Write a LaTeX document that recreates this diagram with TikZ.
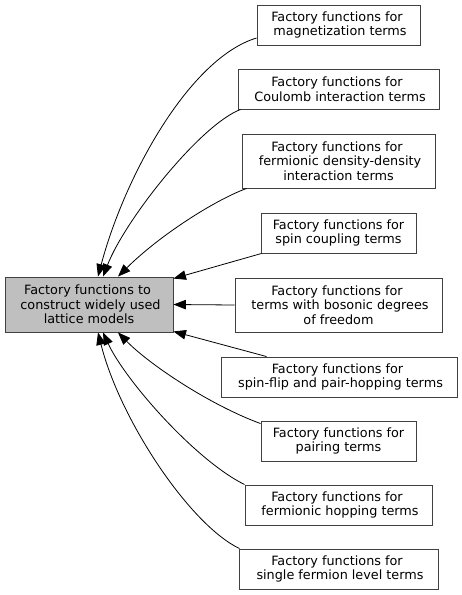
\documentclass[tikz,border=0pt]{standalone}
\usepackage{fontspec}
\setmainfont{DejaVu Sans}
\usetikzlibrary{arrows.meta,calc}
\newcommand{\gsp}{\hspace*{3pt}}
\begin{document}
\begin{tikzpicture}[x=1pt,y=-1pt,
  box/.style={draw=black!75, line width=0.9pt, fill=white, align=center, inner sep=0pt,
    font=\fontsize{12.8}{14.5}\selectfont},
  mainbox/.style={box, fill=gray!50},
  edge/.style={draw=black, line width=0.8pt, -{Triangle[length=12.5pt,width=9.5pt]}}]
\useasboundingbox (0,0) rectangle (461,595);

\node[mainbox, minimum width=168pt, minimum height=55pt] (main) at (89,304.5)
  {Factory functions to\gsp\\\gsp construct widely used\\lattice models};

\node[box, minimum width=163pt, minimum height=40pt] (mag) at (338.5,25)
  {Factory functions for\gsp\\\gsp magnetization terms};
\node[box, minimum width=201pt, minimum height=40pt] (coul) at (338.5,89)
  {Factory functions for\gsp\\\gsp Coulomb interaction terms};
\node[box, minimum width=193pt, minimum height=54pt] (dens) at (338.5,161)
  {Factory functions for\gsp\\\gsp fermionic density-density\\interaction terms};
\node[box, minimum width=155pt, minimum height=40pt] (spin) at (338.5,233)
  {Factory functions for\\spin coupling terms};
\node[box, minimum width=207pt, minimum height=54pt] (bos) at (338.5,305)
  {Factory functions for\gsp\\\gsp terms with bosonic degrees\\of freedom};
\node[box, minimum width=236pt, minimum height=40pt] (flip) at (339,377)
  {Factory functions for\gsp\\\gsp spin-flip and pair-hopping terms};
\node[box, minimum width=155pt, minimum height=40pt] (pair) at (338.5,441)
  {Factory functions for\\pairing terms};
\node[box, minimum width=187pt, minimum height=40pt] (hop) at (338.5,505)
  {Factory functions for\gsp\\\gsp fermionic hopping terms};
\node[box, minimum width=199pt, minimum height=40pt] (single) at (338.5,569)
  {Factory functions for\gsp\\\gsp single fermion level terms};

% edges
\draw[edge] ([yshift=-13pt]mag.west) .. controls (190,58) and (125,175) .. ([xshift=9pt]main.north);
\draw[edge] ([xshift=3pt]coul.south west) .. controls (200,125) and (125,220) .. ([xshift=14pt]main.north);
\draw[edge] ([xshift=5pt]dens.south west) .. controls (215,200) and (160,235) .. ([xshift=29pt]main.north);
\draw[edge] ([xshift=1pt]spin.south west) -- ([yshift=-2pt]main.north east);
\draw[edge] (bos.west) -- (main.east);
\draw[edge] ([xshift=46pt]flip.north west) -- ([yshift=1pt]main.south east);
\draw[edge] ([yshift=-3pt]pair.north west) .. controls (210,405) and (150,365) .. ([xshift=29pt]main.south);
\draw[edge] (hop.north west) .. controls (195,460) and (125,380) .. ([xshift=14pt]main.south);
\draw[edge] ([xshift=1pt]single.north west) .. controls (190,525) and (120,420) .. ([xshift=9pt]main.south);
\end{tikzpicture}
\end{document}
